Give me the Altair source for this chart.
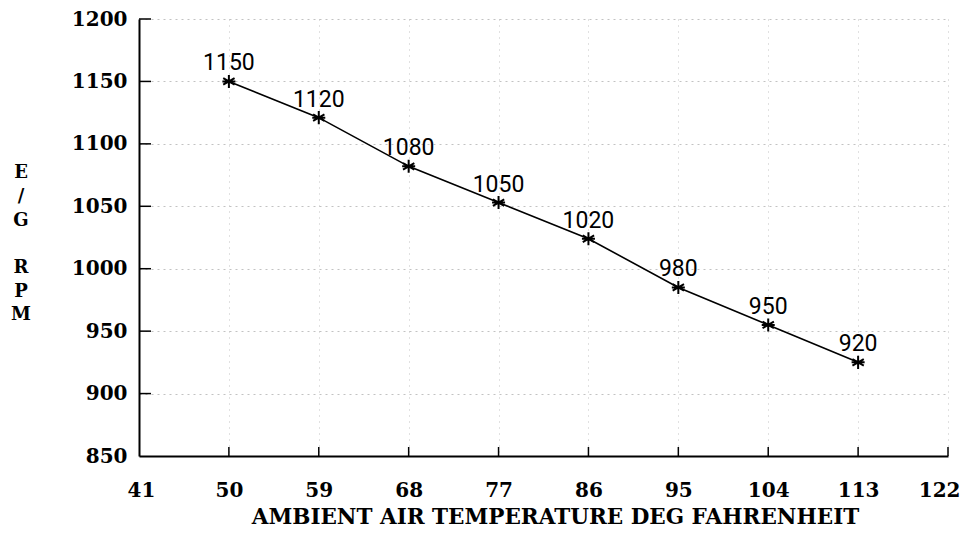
import altair as alt
import pandas as pd

# --- data ---
temps = [50, 59, 68, 77, 86, 95, 104, 113]
rpm_plotted = [1150, 1121, 1082, 1053, 1024, 985, 955, 925]
rpm_labels = ["1150", "1120", "1080", "1050", "1020", "980", "950", "920"]
x_ticks = [41, 50, 59, 68, 77, 86, 95, 104, 113, 122]
y_ticks = [850, 900, 950, 1000, 1050, 1100, 1150, 1200]
y_title_top = ["E", "/", "G"]
y_title_bottom = ["R", "P", "M"]
x_title = "AMBIENT AIR TEMPERATURE DEG FAHRENHEIT"

df = pd.DataFrame({"temp": temps, "rpm": rpm_plotted, "label": rpm_labels})
xt = pd.DataFrame({"t": x_ticks[1:]})
yt = pd.DataFrame({"r": y_ticks[1:]})
one = pd.DataFrame({"k": [0]})

W, H = 809, 437
FONT = "DejaVu Serif"

xscale = alt.Scale(domain=[41, 122], nice=False, zero=False)
yscale = alt.Scale(domain=[850, 1200], nice=False, zero=False)

x_axis = alt.Axis(
    values=x_ticks, format="d", title=x_title,
    ticks=False, labelPadding=24, labelFont=FONT, labelFontSize=20,
    labelFontWeight="bold", labelColor="black",
    labelFlush=True, labelFlushOffset=12,
    titleFont=FONT, titleFontSize=21.5, titleFontWeight="bold", titleColor="black",
    titlePadding=6, titleX=416,
    domainColor="black", domainWidth=2,
    grid=True, gridColor="#9a9a9a", gridDash=[1, 5], gridWidth=1, gridOpacity=0.6,
)

y_axis = alt.Axis(
    values=y_ticks, format="d", title=None,
    ticks=False, labelPadding=12, labelFont=FONT, labelFontSize=20,
    labelFontWeight="bold", labelColor="black", labelFlush=False,
    domainColor="black", domainWidth=2,
    grid=True, gridColor="#9a9a9a", gridDash=[2, 4], gridWidth=1, gridOpacity=0.6,
)

base = alt.Chart(df)

line = base.mark_line(color="black", strokeWidth=1.6).encode(
    x=alt.X("temp:Q", scale=xscale, axis=x_axis),
    y=alt.Y("rpm:Q", scale=yscale, axis=y_axis),
)

star = "M0,-1L0,1M-0.87,-0.5L0.87,0.5M-0.87,0.5L0.87,-0.5M-1,0L1,0"
points = base.mark_point(shape=star, size=170, filled=False, color="black",
                         strokeWidth=2, opacity=1).encode(
    x="temp:Q", y="rpm:Q"
)

labels = base.mark_text(font="Roboto", fontSize=23, color="black",
                        baseline="alphabetic", align="center", dy=-11).encode(
    x="temp:Q", y="rpm:Q", text="label:N"
)

xticks_in = alt.Chart(xt).mark_rule(color="black", strokeWidth=1.5).encode(
    x=alt.X("t:Q", scale=xscale),
    y=alt.value(H), y2=alt.value(H - 9),
)
yticks_in = alt.Chart(yt).mark_rule(color="black", strokeWidth=1.5).encode(
    y=alt.Y("r:Q", scale=yscale),
    x=alt.value(0), x2=alt.value(12),
)

ytitle_style = dict(font=FONT, fontSize=18, fontWeight="bold", color="black",
                    align="center", baseline="top", lineHeight=24)
ytitle1 = alt.Chart(one).mark_text(text=y_title_top, **ytitle_style).encode(
    x=alt.value(-118), y=alt.value(145)
)
ytitle2 = alt.Chart(one).mark_text(text=y_title_bottom, lineHeight=23.5,
                                   **{k: v for k, v in ytitle_style.items() if k != "lineHeight"}).encode(
    x=alt.value(-118), y=alt.value(240)
)

chart = alt.layer(line, xticks_in, yticks_in, points, labels, ytitle1, ytitle2).properties(
    width=W, height=H,
    autosize=alt.AutoSizeParams(type="none"),
    padding={"left": 131, "top": 11, "right": 14, "bottom": 72},
    background="white",
).configure_view(stroke=None)

chart.save("out.html", embed_options={"renderer": "svg", "actions": False})
